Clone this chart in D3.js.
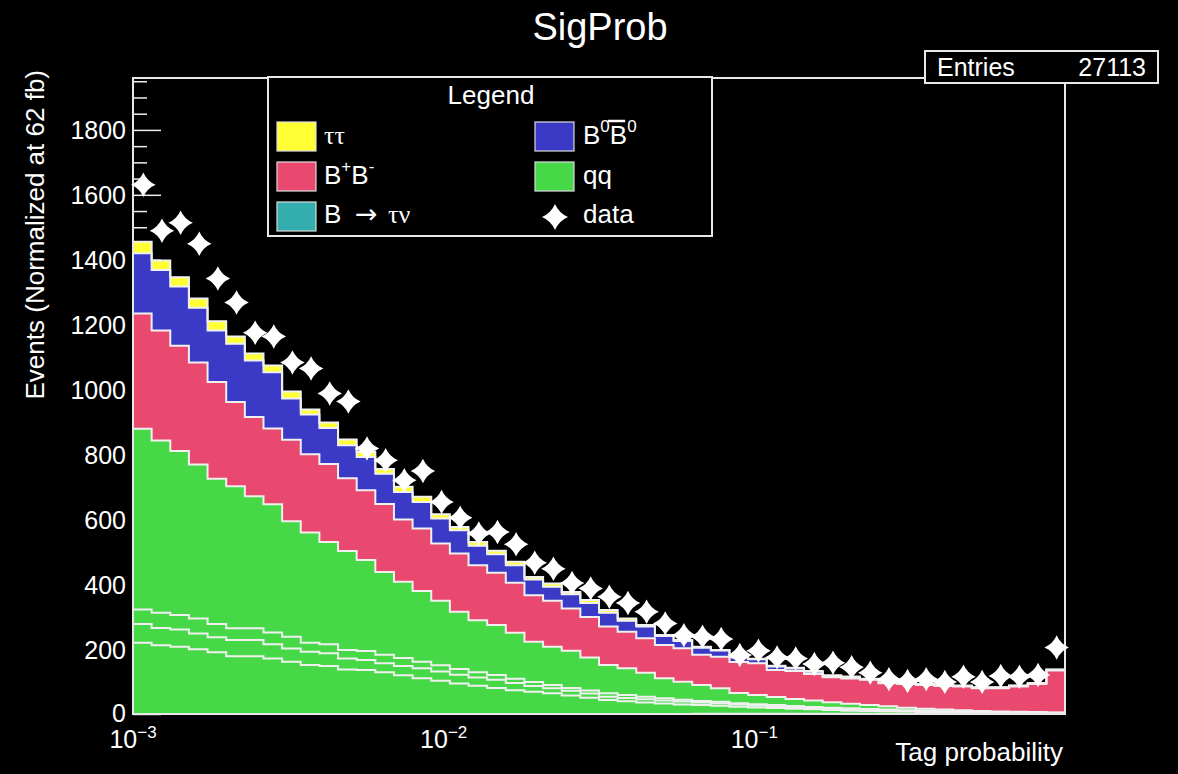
<!DOCTYPE html>
<html>
<head>
<meta charset="utf-8">
<script src="https://cdn.jsdelivr.net/npm/d3@7"></script>
<style>
  html, body { margin: 0; background: #000; }
  svg { display: block; }
</style>
</head>
<body>
<div id="chart"></div>
<script>
// 50 log-uniform bins between 1e-3 and 1
const binCount = 50;
const xLow = 1e-3, xHigh = 1;

// qq is split into four sub-samples (same colour, white outlines between them)
const qqPart1 = [219,212,207,199,190,178,178,171,161,151,148,137,135,128,119,110,102,94,87,80,73,68,64,57,50,43,39,35,32,29,27,25,22,20,18,16,14,12,10,9,8,7,6,5,4,3,3,2,2,1];
const qqPart2 = [58,53,53,49,46,50,50,44,41,41,39,34,31,28,29,31,29,27,25,25,22,18,15,14,13,10,10,10,9,9,8,8,7,6,5,5,4,4,4,3,3,2,2,2,2,2,1,1,1,1];
const qqPart3 = [45,47,45,46,41,36,36,36,36,27,28,26,28,26,24,20,19,17,16,15,13,12,10,9,9,11,9,8,7,6,5,4,4,4,4,3,3,3,3,3,2,2,2,1,1,1,1,1,1,1];
const qqPart4 = [557,531,505,475,448,438,407,395,356,340,315,305,280,255,235,218,199,177,161,154,142,124,118,115,102,87,83,74,62,55,49,42,31,28,25,22,20,17,14,12,10,8,6,5,4,3,2,2,1,1];
const bChargedPair = [355,339,325,314,298,259,244,234,251,241,240,224,215,210,192,192,176,179,169,161,154,144,142,130,125,118,112,106,102,103,93,97,96,98,83,86,82,77,78,78,71,73,73,73,73,70,72,78,87,129];
const bNeutralPair = [186,186,182,169,159,180,174,173,127,123,111,102,103,93,85,82,77,72,60,57,54,48,43,44,43,43,34,36,28,23,22,19,14,12,11,8,7,4,4,2,2,2,2,2,2,2,2,2,2,2];
const tauPair = [35,29,29,28,28,22,22,21,22,15,17,18,15,15,16,16,13,10,12,11,11,8,10,7,9,8,7,5,3,3,3,2,2,2,2,2,2,2,2,1,1,1,1,1,1,1,1,1,1,1];
const bTauNu = [0.2,0.2,0.2,0.2,0.2,0.2,0.2,0.2,0.2,0.2,0.2,0.2,0.3,0.3,0.3,0.3,0.3,0.3,0.3,0.3,0.3,0.3,0.3,0.3,0.3,0.3,0.3,0.3,0.3,0.3,0.4,0.4,0.4,0.4,0.4,0.4,0.4,0.4,0.4,0.4,0.5,0.5,0.5,0.5,0.5,0.6,0.6,0.7,0.8,1.0];
const dataCounts = [1631,1489,1514,1449,1342,1268,1175,1163,1083,1065,988,963,818,782,720,749,653,605,556,561,523,466,448,404,387,361,342,315,279,243,238,231,182,195,174,171,154,158,144,127,107,102,107,99,115,99,117,115,120,205];

const yMajorTicks = [0, 200, 400, 600, 800, 1000, 1200, 1400, 1600, 1800];
const xDecades = [1e-3, 1e-2, 1e-1];
const xDecadeLabels = ["\u22123", "\u22122", "\u22121"];
const entries = "27113";

// stack order, bottom to top
const layerKeys = ["btaunu", "qq1", "qq2", "qq3", "qq4", "bpbm", "b0b0", "tautau"];
const layerColor = {
  btaunu: "#33adad", qq1: "#47d847", qq2: "#47d847", qq3: "#47d847", qq4: "#47d847",
  bpbm: "#e9496e", b0b0: "#3a3ac6", tautau: "#ffff33"
};

const W = 1178, H = 774;
const plot = { left: 133, right: 1065, top: 78, bottom: 714 };
const outlineColor = "#f0f0f0";
const sans = "'Liberation Sans', Arial, Helvetica, sans-serif";
const serif = "'Liberation Serif', 'DejaVu Serif', serif";

const svg = d3.select("#chart").append("svg")
  .attr("width", W).attr("height", H)
  .style("background", "#000");

const x = d3.scaleLog().domain([xLow, xHigh]).range([plot.left, plot.right]);
const y = d3.scaleLinear().domain([0, 1960]).range([plot.bottom, plot.top]);

const edges = d3.range(binCount + 1).map(i => xLow * Math.pow(xHigh / xLow, i / binCount));

const rows = d3.range(binCount).map(i => ({
  btaunu: bTauNu[i], qq1: qqPart1[i], qq2: qqPart2[i], qq3: qqPart3[i], qq4: qqPart4[i],
  bpbm: bChargedPair[i], b0b0: bNeutralPair[i], tautau: tauPair[i]
}));
const stacked = d3.stack().keys(layerKeys)(rows);

// ---- ticks (drawn first, histograms cover them)
const minorY = d3.range(0, 1960, 50).filter(v => v % 200 !== 0);
svg.append("g")
  .attr("transform", `translate(${plot.left},0)`)
  .call(d3.axisRight(y).tickValues(minorY).tickSize(14).tickFormat(""))
  .call(g => g.select(".domain").remove())
  .selectAll("line").attr("stroke", "#eee").attr("stroke-width", 1.5);
svg.append("g")
  .attr("transform", `translate(${plot.left},0)`)
  .call(d3.axisRight(y).tickValues(yMajorTicks).tickSize(28).tickFormat(""))
  .call(g => g.select(".domain").remove())
  .selectAll("line").attr("stroke", "#eee").attr("stroke-width", 1.5);

const minorX = [];
[1e-3, 1e-2, 1e-1].forEach(d => d3.range(2, 10).forEach(m => minorX.push(d * m)));
svg.append("g")
  .attr("transform", `translate(0,${plot.bottom})`)
  .call(d3.axisTop(x).tickValues(minorX).tickSize(14).tickFormat(""))
  .call(g => g.select(".domain").remove())
  .selectAll("line").attr("stroke", "#eee").attr("stroke-width", 1.5);
svg.append("g")
  .attr("transform", `translate(0,${plot.bottom})`)
  .call(d3.axisTop(x).tickValues(xDecades).tickSize(28).tickFormat(""))
  .call(g => g.select(".domain").remove())
  .selectAll("line").attr("stroke", "#eee").attr("stroke-width", 1.5);

// ---- stacked step histograms
const stepPoints = layer => layer.flatMap((d, i) => [
  { x: edges[i], y0: d[0], y1: d[1] },
  { x: edges[i + 1], y0: d[0], y1: d[1] }
]);
const area = d3.area().x(p => x(p.x)).y0(p => y(p.y0)).y1(p => y(p.y1));
const line = d3.line().x(p => x(p.x)).y(p => y(p.y1));

svg.append("g").selectAll("path")
  .data(stacked)
  .join("path")
    .attr("d", s => area(stepPoints(s)))
    .attr("fill", s => layerColor[s.key])
    .attr("stroke", s => layerColor[s.key])
    .attr("stroke-width", 0.5);

svg.append("g").selectAll("path")
  .data(stacked)
  .join("path")
    .attr("d", s => line([{ x: edges[0], y1: 0 }, ...stepPoints(s), { x: edges[binCount], y1: 0 }]))
    .attr("fill", "none")
    .attr("stroke", outlineColor)
    .attr("stroke-width", 2);

// ---- frame
svg.append("rect")
  .attr("x", plot.left).attr("y", plot.top)
  .attr("width", plot.right - plot.left).attr("height", plot.bottom - plot.top)
  .attr("fill", "none").attr("stroke", "#e8e8e8").attr("stroke-width", 2);

// ---- data markers (four-point star)
const starShape = {
  draw(ctx, size) {
    const r = Math.sqrt(size), k = r * 0.3;
    ctx.moveTo(0, -r);
    ctx.quadraticCurveTo(k, -k, r, 0);
    ctx.quadraticCurveTo(k, k, 0, r);
    ctx.quadraticCurveTo(-k, k, -r, 0);
    ctx.quadraticCurveTo(-k, -k, 0, -r);
    ctx.closePath();
  }
};
svg.append("g").selectAll("path")
  .data(dataCounts)
  .join("path")
    .attr("transform", (d, i) => `translate(${x(Math.sqrt(edges[i] * edges[i + 1])) + 1},${y(d)})`)
    .attr("d", d3.symbol(starShape, 150))
    .attr("fill", "#fff");

// ---- axis labels
svg.append("g")
  .attr("transform", `translate(${plot.left},0)`)
  .call(d3.axisLeft(y).tickValues(yMajorTicks).tickSize(0).tickPadding(7).tickFormat(d3.format("d")))
  .call(g => g.select(".domain").remove())
  .selectAll("text")
    .attr("fill", "#fff").attr("font-family", sans).attr("font-size", 25)
    .attr("dy", d => d === 0 ? "0.3em" : "0.36em");

xDecades.forEach((v, i) => {
  const t = svg.append("text")
    .attr("x", x(v)).attr("y", 748)
    .attr("text-anchor", "middle")
    .attr("font-family", sans).attr("font-size", 25).attr("fill", "#fff");
  t.append("tspan").text("10");
  t.append("tspan").attr("font-size", 17).attr("dy", -10).text(xDecadeLabels[i]);
});

svg.append("text")
  .attr("x", 1063).attr("y", 761)
  .attr("text-anchor", "end")
  .attr("font-family", sans).attr("font-size", 26).attr("fill", "#fff")
  .text("Tag probability");

svg.append("text")
  .attr("transform", "translate(44,70) rotate(-90)")
  .attr("text-anchor", "end")
  .attr("font-family", sans).attr("font-size", 26).attr("fill", "#fff")
  .text("Events (Normalized at 62 fb)");

svg.append("text")
  .attr("x", 600).attr("y", 40)
  .attr("text-anchor", "middle")
  .attr("font-family", sans).attr("font-size", 38).attr("fill", "#fff")
  .text("SigProb");

// ---- stats box
svg.append("rect")
  .attr("x", 925).attr("y", 51).attr("width", 233).attr("height", 32)
  .attr("fill", "#000").attr("stroke", "#e8e8e8").attr("stroke-width", 2);
svg.append("text")
  .attr("x", 937).attr("y", 76)
  .attr("font-family", sans).attr("font-size", 25).attr("fill", "#fff")
  .text("Entries");
svg.append("text")
  .attr("x", 1146).attr("y", 76).attr("text-anchor", "end")
  .attr("font-family", sans).attr("font-size", 25).attr("fill", "#fff")
  .text(entries);

// ---- legend
const legend = svg.append("g");
legend.append("rect")
  .attr("x", 268).attr("y", 77).attr("width", 444).attr("height", 159)
  .attr("fill", "#000").attr("stroke", "#e8e8e8").attr("stroke-width", 2);
legend.append("text")
  .attr("x", 491).attr("y", 104).attr("text-anchor", "middle")
  .attr("font-family", sans).attr("font-size", 26).attr("fill", "#fff")
  .text("Legend");

// parts: [text, font, raise, optional x offset]
const arrowFont = "'DejaVu Sans', sans-serif";
const legendItems = [
  { col: 0, row: 0, color: layerColor.tautau, parts: [["\u03c4\u03c4", serif, 0]] },
  { col: 1, row: 0, color: layerColor.b0b0, parts: [["B", sans, 0], ["0", sans, 1], ["B", sans, 0], ["0", sans, 1]], bar: 2 },
  { col: 0, row: 1, color: layerColor.bpbm, parts: [["B", sans, 0], ["+", sans, 1], ["B", sans, 0], ["-", sans, 1]] },
  { col: 1, row: 1, color: layerColor.qq4, parts: [["qq", sans, 0]] },
  { col: 0, row: 2, color: layerColor.btaunu, parts: [["B", sans, 0, 0], ["\u2192", arrowFont, 0, 31], ["\u03c4\u03bd", serif, 0, 64]] },
  { col: 1, row: 2, marker: true, parts: [["data", sans, 0]] }
];
const swatchX = [277, 535], textX = [324, 583];
const swatchY = [122, 162, 202], baseY = [144, 183.5, 223];

legendItems.forEach(item => {
  if (item.marker) {
    legend.append("path")
      .attr("transform", `translate(${swatchX[item.col] + 20},${swatchY[item.row] + 15})`)
      .attr("d", d3.symbol(starShape, 169))
      .attr("fill", "#fff");
  } else {
    legend.append("rect")
      .attr("x", swatchX[item.col]).attr("y", swatchY[item.row])
      .attr("width", 39).attr("height", 29)
      .attr("fill", item.color)
      .attr("stroke", "#ddd").attr("stroke-width", 1.2);
  }
  const t = legend.append("text")
    .attr("x", textX[item.col]).attr("y", baseY[item.row])
    .attr("font-size", 26).attr("fill", "#fff");
  let shift = 0;
  item.parts.forEach(([str, font, raise, dx]) => {
    const target = raise ? -12 : 0;
    const ts = t.append("tspan")
      .attr("font-family", font)
      .attr("font-size", raise ? 17 : 26)
      .attr("dy", target - shift)
      .text(str);
    if (dx !== undefined) ts.attr("x", textX[item.col] + dx);
    if (font === arrowFont) ts.attr("font-size", 27);
    shift = target;
  });
  if (item.bar !== undefined) {
    const box = t.node().getExtentOfChar(item.bar);
    legend.append("line")
      .attr("x1", box.x - 2).attr("x2", box.x + box.width - 2)
      .attr("y1", box.y + 1).attr("y2", box.y + 1)
      .attr("stroke", "#fff").attr("stroke-width", 2.5);
  }
});
</script>
</body>
</html>
